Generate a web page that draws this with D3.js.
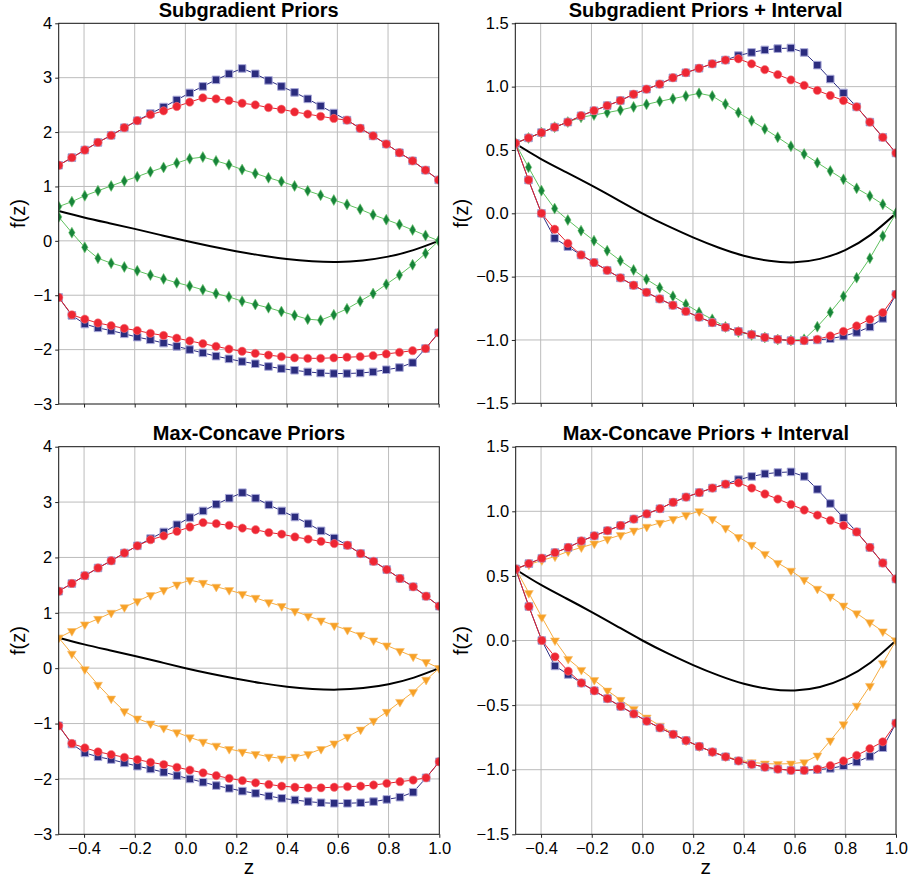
<!DOCTYPE html>
<html>
<head>
<meta charset="utf-8">
<script src="https://cdn.jsdelivr.net/npm/d3@7"></script>
<style>
  body { margin: 0; background: #fff; }
  svg { display: block; }
  text { font-family: "Liberation Sans", Arial, Helvetica, sans-serif; fill: #000; }
</style>
</head>
<body>
<svg id="chart" width="909" height="879"></svg>
<script>
// ---- sample locations (30 evenly spaced points on [-0.5, 1]) ----
const zSamples = [-0.5, -0.448, -0.397, -0.345, -0.293, -0.241, -0.190, -0.138, -0.086, -0.034,
                  0.017, 0.069, 0.121, 0.172, 0.224, 0.276, 0.328, 0.379, 0.431, 0.483,
                  0.534, 0.586, 0.638, 0.690, 0.741, 0.793, 0.845, 0.897, 0.948, 1.0];

// ---- true function f(z) ----
const trueZ = [-0.5, -0.4, -0.3, -0.2, -0.1, 0.0, 0.1, 0.2, 0.3, 0.4, 0.5, 0.6, 0.7, 0.8, 0.9, 1.0];
const trueF = [0.55, 0.43, 0.325, 0.22, 0.11, 0.0, -0.10, -0.19, -0.27, -0.335, -0.375, -0.387, -0.36, -0.29, -0.17, 0.0];

// ---- bounds without interval information ----
const boundUpperBlue = [1.39, 1.53, 1.67, 1.81, 1.94, 2.08, 2.21, 2.34, 2.46, 2.59, 2.72, 2.84, 2.96, 3.07, 3.17,
                        3.07, 2.95, 2.84, 2.73, 2.61, 2.48, 2.35, 2.22, 2.07, 1.93, 1.78, 1.62, 1.47, 1.30, 1.12];
const boundUpperRed  = [1.39, 1.53, 1.67, 1.81, 1.94, 2.08, 2.21, 2.32, 2.39, 2.47, 2.55, 2.63, 2.61, 2.58, 2.53,
                        2.50, 2.45, 2.42, 2.37, 2.33, 2.29, 2.25, 2.22, 2.07, 1.93, 1.78, 1.62, 1.47, 1.30, 1.12];
const boundLowerBlue = [-1.04, -1.37, -1.53, -1.60, -1.65, -1.71, -1.77, -1.82, -1.88, -1.94, -2.00, -2.06, -2.12, -2.17, -2.22,
                        -2.26, -2.31, -2.35, -2.38, -2.41, -2.43, -2.44, -2.44, -2.43, -2.41, -2.37, -2.33, -2.24, -1.98, -1.69];
const boundLowerRed  = [-1.04, -1.36, -1.44, -1.51, -1.56, -1.61, -1.65, -1.70, -1.74, -1.79, -1.84, -1.89, -1.94, -1.99, -2.03,
                        -2.07, -2.10, -2.13, -2.15, -2.16, -2.16, -2.15, -2.14, -2.13, -2.11, -2.08, -2.05, -2.02, -1.98, -1.69];

// ---- bounds with interval information ----
const intUpperBlue = [0.553, 0.595, 0.637, 0.68, 0.72, 0.77, 0.81, 0.85, 0.89, 0.94, 0.98, 1.02, 1.07, 1.11, 1.145,
                      1.18, 1.21, 1.245, 1.27, 1.29, 1.30, 1.305, 1.27, 1.17, 1.06, 0.95, 0.84, 0.72, 0.60, 0.476];
const intUpperRed  = [0.553, 0.595, 0.637, 0.68, 0.72, 0.77, 0.81, 0.85, 0.89, 0.94, 0.98, 1.02, 1.07, 1.11, 1.145,
                      1.18, 1.21, 1.22, 1.18, 1.134, 1.095, 1.053, 1.01, 0.97, 0.93, 0.89, 0.84, 0.72, 0.60, 0.476];
const intLowerBlue = [0.553, 0.263, 0.0, -0.197, -0.263, -0.329, -0.389, -0.45, -0.51, -0.568, -0.624, -0.676, -0.726, -0.774, -0.82,
                      -0.863, -0.90, -0.932, -0.958, -0.98, -0.995, -1.005, -1.005, -1.0, -0.99, -0.97, -0.94, -0.897, -0.83, -0.64];
const intLowerRed  = [0.553, 0.263, 0.0, -0.126, -0.237, -0.329, -0.389, -0.45, -0.51, -0.568, -0.624, -0.676, -0.726, -0.774, -0.82,
                      -0.863, -0.90, -0.932, -0.958, -0.98, -0.995, -1.005, -1.005, -0.995, -0.968, -0.932, -0.889, -0.837, -0.784, -0.64];

// ---- subgradient priors ----
const subgradUpper = [0.63, 0.72, 0.83, 0.92, 1.01, 1.10, 1.18, 1.27, 1.35, 1.43, 1.51, 1.54, 1.47, 1.40, 1.31,
                      1.24, 1.16, 1.09, 1.01, 0.92, 0.84, 0.75, 0.67, 0.58, 0.48, 0.39, 0.30, 0.20, 0.10, 0.00];
const subgradLower = [0.44, 0.15, -0.12, -0.32, -0.41, -0.48, -0.55, -0.63, -0.70, -0.77, -0.83, -0.90, -0.97, -1.03, -1.11,
                      -1.17, -1.23, -1.30, -1.37, -1.44, -1.46, -1.36, -1.25, -1.11, -0.97, -0.80, -0.63, -0.44, -0.23, 0.00];
const subgradIntUpper = [0.553, 0.595, 0.637, 0.68, 0.72, 0.758, 0.776, 0.795, 0.815, 0.84, 0.86, 0.884, 0.905, 0.926, 0.947,
                         0.926, 0.863, 0.795, 0.73, 0.666, 0.60, 0.53, 0.468, 0.40, 0.334, 0.268, 0.197, 0.137, 0.071, 0.0];
const subgradIntLower = [0.553, 0.363, 0.179, 0.037, -0.053, -0.137, -0.216, -0.295, -0.374, -0.447, -0.521, -0.587, -0.655, -0.718, -0.782,
                         -0.837, -0.897, -0.937, -0.96, -0.98, -0.997, -1.003, -0.995, -0.895, -0.782, -0.655, -0.508, -0.355, -0.179, 0.0];

// ---- max-concave priors ----
const maxConcUpper = [0.55, 0.67, 0.79, 0.89, 1.00, 1.10, 1.21, 1.32, 1.41, 1.51, 1.59, 1.54, 1.47, 1.41, 1.34,
                      1.27, 1.19, 1.12, 1.03, 0.94, 0.86, 0.77, 0.69, 0.60, 0.50, 0.41, 0.31, 0.21, 0.11, 0.00];
const maxConcLower = [0.55, 0.26, -0.02, -0.30, -0.55, -0.78, -0.91, -1.00, -1.08, -1.16, -1.25, -1.33, -1.40, -1.46, -1.51,
                      -1.55, -1.60, -1.63, -1.60, -1.55, -1.46, -1.36, -1.24, -1.11, -0.95, -0.79, -0.61, -0.43, -0.21, 0.00];
const maxConcIntUpper = [0.556, 0.588, 0.62, 0.65, 0.69, 0.72, 0.75, 0.785, 0.816, 0.85, 0.88, 0.91, 0.94, 0.97, 1.00,
                         0.94, 0.87, 0.80, 0.74, 0.67, 0.60, 0.54, 0.47, 0.40, 0.34, 0.27, 0.21, 0.14, 0.07, 0.0];
const maxConcIntLower = [0.556, 0.367, 0.18, 0.0, -0.143, -0.228, -0.306, -0.388, -0.46, -0.53, -0.597, -0.66, -0.72, -0.775, -0.822,
                         -0.86, -0.897, -0.925, -0.943, -0.953, -0.956, -0.953, -0.943, -0.891, -0.775, -0.649, -0.505, -0.352, -0.177, 0.0];

// ---- axis ticks ----
const xTickValues = [-0.4, -0.2, 0.0, 0.2, 0.4, 0.6, 0.8, 1.0];
const yTicksWide = [-3, -2, -1, 0, 1, 2, 3, 4];
const yTicksNarrow = [-1.5, -1.0, -0.5, 0.0, 0.5, 1.0, 1.5];

// ---- styles ----
const styles = {
  blue:   { line: "#2e2f84", fill: "#2b2c7e", stroke: "#a9a9d8", sw: 1, shape: d3.symbolSquare, size: 57, rot: 0 },
  red:    { line: "#e5222d", fill: "#ee2633", stroke: "#f37a82", sw: 0.6, shape: d3.symbolCircle, size: 54, rot: 0 },
  green:  { line: "#5fc05f", fill: "#17843a", stroke: "#74c874", sw: 0.6, shape: d3.symbolDiamond, size: 35, rot: 0 },
  orange: { line: "#f6ac40", fill: "#f7a127", stroke: "#f9c070", sw: 0.6, shape: d3.symbolTriangle, size: 34, rot: 180 }
};

const panels = [
  { title: "Subgradient Priors", box: [58.7, 438.7, 23.3, 404], yDomain: [-3, 4], yTicks: yTicksWide, yFmt: d3.format("d"),
    xLabels: false, labelX: 25,
    series: [[subgradUpper, "green"], [subgradLower, "green"],
             [boundUpperBlue, "blue"], [boundLowerBlue, "blue"], [boundUpperRed, "red"], [boundLowerRed, "red"]] },
  { title: "Subgradient Priors + Interval", box: [515.3, 896, 23.3, 403.3], yDomain: [-1.5, 1.5], yTicks: yTicksNarrow, yFmt: d3.format(".1f"),
    xLabels: false, labelX: 468,
    series: [[subgradIntUpper, "green"], [subgradIntLower, "green"],
             [intUpperBlue, "blue"], [intLowerBlue, "blue"], [intUpperRed, "red"], [intLowerRed, "red"]] },
  { title: "Max-Concave Priors", box: [58.7, 439.3, 446.7, 834.3], yDomain: [-3, 4], yTicks: yTicksWide, yFmt: d3.format("d"),
    xLabels: true, labelX: 25,
    series: [[maxConcUpper, "orange"], [maxConcLower, "orange"],
             [boundUpperBlue, "blue"], [boundLowerBlue, "blue"], [boundUpperRed, "red"], [boundLowerRed, "red"]] },
  { title: "Max-Concave Priors + Interval", box: [515.7, 896, 446.7, 834.3], yDomain: [-1.5, 1.5], yTicks: yTicksNarrow, yFmt: d3.format(".1f"),
    xLabels: true, labelX: 468,
    series: [[maxConcIntUpper, "orange"], [maxConcIntLower, "orange"],
             [intUpperBlue, "blue"], [intLowerBlue, "blue"], [intUpperRed, "red"], [intLowerRed, "red"]] }
];

const svg = d3.select("#chart");

panels.forEach((p, pi) => {
  const [x0, x1, y0, y1] = p.box;
  const x = d3.scaleLinear().domain([-0.5, 1.0]).range([x0, x1]);
  const y = d3.scaleLinear().domain(p.yDomain).range([y1, y0]);
  const g = svg.append("g");

  const clipId = "clip" + pi;
  svg.append("clipPath").attr("id", clipId)
    .append("rect").attr("x", x0).attr("y", y0).attr("width", x1 - x0).attr("height", y1 - y0);

  // grid
  const grid = g.append("g").attr("stroke", "#bcbcbc").attr("stroke-width", 1);
  grid.selectAll("line.v").data(xTickValues.filter(v => v < 1.0)).join("line")
    .attr("x1", d => x(d)).attr("x2", d => x(d)).attr("y1", y0).attr("y2", y1);
  grid.selectAll("line.h").data(p.yTicks.filter(v => v > p.yDomain[0] && v < p.yDomain[1])).join("line")
    .attr("x1", x0).attr("x2", x1).attr("y1", d => y(d)).attr("y2", d => y(d));

  const plot = g.append("g").attr("clip-path", `url(#${clipId})`);

  // true function
  const trueLine = d3.line().x((d, i) => x(trueZ[i])).y(d => y(d)).curve(d3.curveNatural);
  plot.append("path").attr("d", trueLine(trueF)).attr("fill", "none").attr("stroke", "#000").attr("stroke-width", 2);

  // bound / prior series
  const segLine = d3.line().x((d, i) => x(zSamples[i])).y(d => y(d));
  p.series.forEach(([vals, key]) => {
    const s = styles[key];
    const sg = plot.append("g");
    sg.append("path").attr("d", segLine(vals)).attr("fill", "none").attr("stroke", s.line).attr("stroke-width", 1);
    const sym = d3.symbol().type(s.shape).size(s.size);
    sg.selectAll("path.m").data(vals).join("path").attr("class", "m")
      .attr("d", sym)
      .attr("transform", (d, i) => `translate(${x(zSamples[i])},${y(d)}) rotate(${s.rot})`)
      .attr("fill", s.fill).attr("stroke", s.stroke).attr("stroke-width", s.sw);
  });

  // frame
  g.append("rect").attr("x", x0).attr("y", y0).attr("width", x1 - x0).attr("height", y1 - y0)
    .attr("fill", "none").attr("stroke", "#111").attr("stroke-width", 1);

  // axes
  const xAxis = d3.axisBottom(x).tickValues(xTickValues).tickSize(3.5).tickSizeOuter(0).tickPadding(4)
    .tickFormat(p.xLabels ? d3.format(".1f") : () => "");
  const xg = g.append("g").attr("transform", `translate(0,${y1})`).call(xAxis);
  xg.select(".domain").remove();
  xg.selectAll("text").attr("font-size", 16.5).attr("font-family", "Liberation Sans, Arial, sans-serif");
  xg.selectAll("line").attr("stroke", "#222");

  const yAxis = d3.axisLeft(y).tickValues(p.yTicks).tickSize(3.5).tickSizeOuter(0).tickPadding(3).tickFormat(p.yFmt);
  const yg = g.append("g").attr("transform", `translate(${x0},0)`).call(yAxis);
  yg.select(".domain").remove();
  yg.selectAll("text").attr("font-size", 16.5).attr("font-family", "Liberation Sans, Arial, sans-serif");
  yg.selectAll("line").attr("stroke", "#222");

  // title
  g.append("text").attr("x", (x0 + x1) / 2).attr("y", y0 - 6.5).attr("text-anchor", "middle")
    .attr("font-size", 20).attr("font-weight", "bold").text(p.title);

  // y label
  g.append("text").attr("transform", `translate(${p.labelX},${(y0 + y1) / 2}) rotate(-90)`)
    .attr("text-anchor", "middle").attr("font-size", 20).text("f(z)");

  // x label
  if (p.xLabels) {
    g.append("text").attr("x", (x0 + x1) / 2).attr("y", 874).attr("text-anchor", "middle")
      .attr("font-size", 21).text("z");
  }
});
</script>
</body>
</html>
